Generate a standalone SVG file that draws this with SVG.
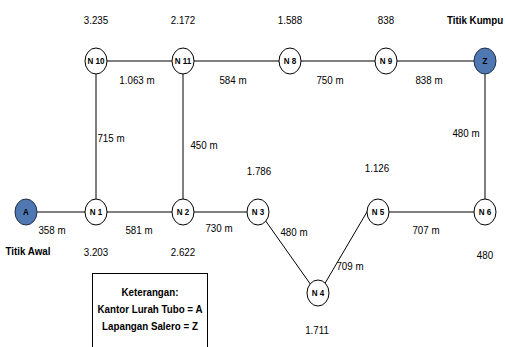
<svg xmlns="http://www.w3.org/2000/svg" width="505" height="347" viewBox="0 0 505 347">
  <style>
    .node { fill: #ffffff; stroke: #000000; stroke-width: 1; }
    .start { fill: #4f78b2; stroke: #1f2f4a; stroke-width: 1; }
    .nid { font-family: "Liberation Sans", Arial, sans-serif; font-size: 9.5px; font-weight: bold; text-anchor: middle; fill: #000; }
    .lbl { font-family: "Liberation Sans", Arial, sans-serif; font-size: 11.5px; text-anchor: middle; fill: #000; }
    .blbl { font-family: "Liberation Sans", Arial, sans-serif; font-size: 11.5px; font-weight: bold; text-anchor: middle; fill: #000; }
    .edge { stroke: #000; stroke-width: 1; fill: none; }
  </style>

  <rect width="505" height="347" fill="#ffffff"/>

  <!-- connectors -->
  <g id="edges">
    <line class="edge" x1="107" y1="61" x2="172" y2="61"/>
    <line class="edge" x1="194" y1="61" x2="279" y2="61"/>
    <line class="edge" x1="301" y1="61" x2="375" y2="61"/>
    <line class="edge" x1="397" y1="61" x2="474" y2="61"/>
    <line class="edge" x1="96" y1="74" x2="96" y2="199"/>
    <line class="edge" x1="183" y1="74" x2="183" y2="199"/>
    <line class="edge" x1="485" y1="74" x2="485" y2="199"/>
    <line class="edge" x1="37" y1="212" x2="85" y2="212"/>
    <line class="edge" x1="107" y1="212" x2="172" y2="212"/>
    <line class="edge" x1="194" y1="212" x2="247" y2="212"/>
    <line class="edge" x1="265" y1="220" x2="311" y2="285"/>
    <line class="edge" x1="324" y1="285" x2="371" y2="205"/>
    <line class="edge" x1="389" y1="212" x2="474" y2="212"/>
  </g>

  <!-- node shapes -->
  <g id="A"><ellipse class="start" cx="26" cy="212" rx="11" ry="13"/></g>
  <g id="Z"><ellipse class="start" cx="485" cy="61" rx="11" ry="13"/></g>
  <g id="N10"><ellipse class="node" cx="96" cy="61" rx="11" ry="13"/></g>
  <g id="N11"><ellipse class="node" cx="183" cy="61" rx="11" ry="13"/></g>
  <g id="N8"><ellipse class="node" cx="290" cy="61" rx="11" ry="13"/></g>
  <g id="N9"><ellipse class="node" cx="386" cy="61" rx="11" ry="13"/></g>
  <g id="N1"><ellipse class="node" cx="96" cy="212" rx="11" ry="13"/></g>
  <g id="N2"><ellipse class="node" cx="183" cy="212" rx="11" ry="13"/></g>
  <g id="N3"><ellipse class="node" cx="258" cy="212" rx="11" ry="13"/></g>
  <g id="N4"><ellipse class="node" cx="318" cy="293" rx="11" ry="13"/></g>
  <g id="N5"><ellipse class="node" cx="378" cy="212" rx="11" ry="13"/></g>
  <g id="N6"><ellipse class="node" cx="485" cy="212" rx="11" ry="13"/></g>

  <!-- legend frame -->
  <rect x="92.5" y="273.5" width="115" height="80" fill="#ffffff" stroke="#000" stroke-width="1"/>

  <!-- all lettering is set in a narrowed face: x coordinates below are divided by 0.85 -->
  <g id="lettering" transform="scale(0.85,1)">
    <g id="node-ids">
      <text class="nid" x="30.59" y="215.5">A</text>
      <text class="nid" x="570.59" y="64.5">Z</text>
      <text class="nid" x="112.94" y="64.5">N 10</text>
      <text class="nid" x="215.29" y="64.5">N 11</text>
      <text class="nid" x="341.18" y="64.5">N 8</text>
      <text class="nid" x="454.12" y="64.5">N 9</text>
      <text class="nid" x="112.94" y="215.5">N 1</text>
      <text class="nid" x="215.29" y="215.5">N 2</text>
      <text class="nid" x="303.53" y="215.5">N 3</text>
      <text class="nid" x="374.12" y="296.5">N 4</text>
      <text class="nid" x="444.71" y="215.5">N 5</text>
      <text class="nid" x="570.59" y="215.5">N 6</text>
    </g>

    <g id="edge-labels">
      <text class="lbl" x="161.18" y="84">1.063 m</text>
      <text class="lbl" x="274.12" y="84">584 m</text>
      <text class="lbl" x="388.24" y="84">750 m</text>
      <text class="lbl" x="504.71" y="84">838 m</text>
      <text class="lbl" x="130.59" y="142">715 m</text>
      <text class="lbl" x="240" y="149">450 m</text>
      <text class="lbl" x="548.24" y="137">480 m</text>
      <text class="lbl" x="61.18" y="234">358 m</text>
      <text class="lbl" x="163.53" y="234">581 m</text>
      <text class="lbl" x="257.65" y="232">730 m</text>
      <text class="lbl" x="345.88" y="236">480 m</text>
      <text class="lbl" x="411.76" y="270">709 m</text>
      <text class="lbl" x="501.18" y="234">707 m</text>
    </g>

    <g id="values">
      <text class="lbl" x="112.94" y="24">3.235</text>
      <text class="lbl" x="215.29" y="24">2.172</text>
      <text class="lbl" x="341.18" y="24">1.588</text>
      <text class="lbl" x="454.12" y="24">838</text>
      <text class="lbl" x="112.94" y="256">3.203</text>
      <text class="lbl" x="215.29" y="256">2.622</text>
      <text class="lbl" x="304.71" y="175">1.786</text>
      <text class="lbl" x="443.53" y="172">1.126</text>
      <text class="lbl" x="570.59" y="259">480</text>
      <text class="lbl" x="372.94" y="334">1.711</text>
      <text class="blbl" x="32.94" y="255">Titik Awal</text>
      <text class="blbl" x="592" y="24" style="text-anchor:end">Titik Kumpu</text>
    </g>

    <g id="legend-text">
      <text class="blbl" x="176.47" y="296">Keterangan:</text>
      <text class="blbl" x="176.47" y="313">Kantor Lurah Tubo = A</text>
      <text class="blbl" x="176.47" y="330">Lapangan Salero = Z</text>
    </g>
  </g>
</svg>
